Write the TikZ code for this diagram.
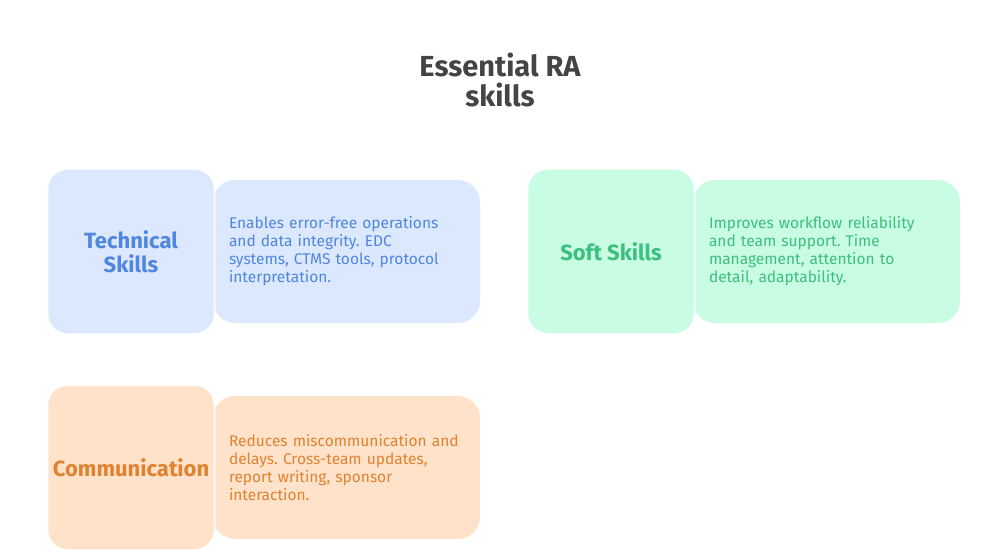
\documentclass[tikz,border=0pt]{standalone}
\usepackage{fontspec}
\setmainfont{Fira Sans}
\usepackage{tikz}
\usetikzlibrary{positioning}
\frenchspacing

\definecolor{techfill}{HTML}{DCE8FD}
\definecolor{techtxt}{HTML}{4F86E0}
\definecolor{softfill}{HTML}{C8FCE3}
\definecolor{softtxt}{HTML}{3DBF7F}
\definecolor{commfill}{HTML}{FEE2CA}
\definecolor{commtxt}{HTML}{E0822F}
\definecolor{titletxt}{HTML}{444444}

\begin{document}
\begin{tikzpicture}[x=1pt,y=-1pt]
\tikzstyle{desc} = [rounded corners=22pt,minimum width=267pt,minimum height=143pt,text width=235pt,inner xsep=16pt,align=left,font=\fontsize{15.5}{18}\selectfont]
\tikzstyle{square} = [rounded corners=20pt,draw=white,line width=1.5pt,minimum width=167pt,minimum height=165pt,align=center,font=\fontsize{22}{24}\selectfont\bfseries]
    \useasboundingbox (0,0) rectangle (1008,556);
    \node[font=\fontsize{29}{30}\selectfont\bfseries,text=titletxt,align=center] (title) at (500,80) {Essential RA\\skills};

    % technical
    \node[desc,fill=techfill,text=techtxt] (techtext) at (346.5,251.5) {Enables error-free operations\\and data integrity. EDC\\systems, CTMS tools, protocol\\interpretation.};
    \node[square,fill=techfill,text=techtxt] (tech) [left=-2.5pt of techtext] {Technical\\Skills};

    % soft
    \node[desc,fill=softfill,text=softtxt] (softtext) at (826.5,251.5) {Improves workflow reliability\\and team support. Time\\management, attention to\\detail, adaptability.};
    \node[square,fill=softfill,text=softtxt] (soft) [left=-2.5pt of softtext] {Soft Skills};

    % communication
    \node[desc,fill=commfill,text=commtxt] (commtext) at (346.5,467.5) {Reduces miscommunication and\\delays. Cross-team updates,\\report writing, sponsor\\interaction.};
    \node[square,fill=commfill,text=commtxt] (comm) [left=-2.5pt of commtext] {Communication};
\end{tikzpicture}
\end{document}
